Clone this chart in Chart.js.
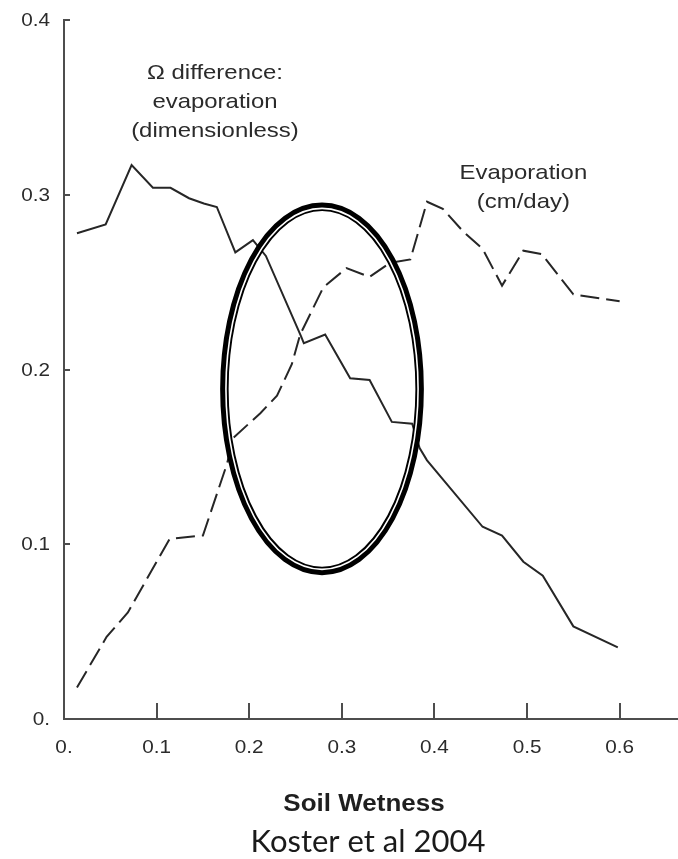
<!DOCTYPE html>
<html>
<head>
<meta charset="utf-8">
<script src="https://cdn.jsdelivr.net/npm/chart.js@4"></script>
<style>
html,body{margin:0;padding:0;background:#fff;}
canvas{display:block;}
</style>
</head>
<body>
<canvas id="c" width="678" height="859"></canvas>
<script>
// ---- data ----
const omegaX = [0.014, 0.045, 0.073, 0.096, 0.115, 0.135, 0.151, 0.165, 0.185, 0.204, 0.218, 0.256, 0.259, 0.282, 0.309, 0.330, 0.354, 0.376, 0.384, 0.392, 0.452, 0.473, 0.496, 0.517, 0.550, 0.598];
const omegaY = [0.278, 0.283, 0.317, 0.304, 0.304, 0.298, 0.295, 0.293, 0.267, 0.274, 0.265, 0.219, 0.215, 0.220, 0.195, 0.194, 0.170, 0.169, 0.155, 0.148, 0.110, 0.105, 0.090, 0.082, 0.053, 0.041];

const evapX = [0.014, 0.046, 0.069, 0.114, 0.150, 0.176, 0.183, 0.212, 0.230, 0.246, 0.255, 0.280, 0.305, 0.330, 0.352, 0.374, 0.392, 0.409, 0.431, 0.452, 0.473, 0.496, 0.516, 0.550, 0.600];
const evapY = [0.018, 0.047, 0.061, 0.103, 0.105, 0.146, 0.161, 0.175, 0.185, 0.203, 0.220, 0.247, 0.258, 0.253, 0.261, 0.263, 0.296, 0.292, 0.279, 0.269, 0.248, 0.268, 0.266, 0.243, 0.239];

const xTickValues = [0, 0.1, 0.2, 0.3, 0.4, 0.5, 0.6];
const xTickLabels = ['0.', '0.1', '0.2', '0.3', '0.4', '0.5', '0.6'];
const yTickValues = [0, 0.1, 0.2, 0.3, 0.4];
const yTickLabels = ['0.', '0.1', '0.2', '0.3', '0.4'];

const xTitle = 'Soil Wetness';
const sourceNote = 'Koster et al 2004';
const omegaLabel = ['\u03A9 difference:', 'evaporation', '(dimensionless)'];
const evapLabel = ['Evaporation', '(cm/day)'];

// highlighted region (data units): centre and radii
const highlight = { cx: 0.2786, cy: 0.1889, rx: 0.110, ry: 0.1066 };

// ---- styling ----
const INK = '#262626';
const AXIS = '#4d4d4d';
const TXT = '#2b2b2b';
const STRETCH = 1.15;

function drawText(ctx, text, x, y, font, sx, align, color) {
  ctx.save();
  ctx.translate(x, y);
  ctx.scale(sx, 1);
  ctx.font = font;
  ctx.fillStyle = color || TXT;
  ctx.textAlign = align || 'center';
  ctx.textBaseline = 'alphabetic';
  ctx.fillText(text, 0, 0);
  ctx.restore();
}

const decor = {
  id: 'decor',
  afterDatasetsDraw(chart) {
    const { ctx, scales: { x, y } } = chart;
    const cx = x.getPixelForValue(highlight.cx);
    const cy = y.getPixelForValue(highlight.cy);
    const rx = x.getPixelForValue(highlight.cx + highlight.rx) - cx;
    const ry = cy - y.getPixelForValue(highlight.cy + highlight.ry);
    ctx.save();
    ctx.strokeStyle = '#000';
    ctx.lineWidth = 8.5;
    ctx.beginPath();
    ctx.ellipse(cx, cy, rx - 4.25, ry - 4.25, 0, 0, Math.PI * 2);
    ctx.stroke();
    ctx.strokeStyle = '#fff';
    ctx.lineWidth = 1.6;
    ctx.beginPath();
    ctx.ellipse(cx, cy, rx - 5.8, ry - 5.8, 0, 0, Math.PI * 2);
    ctx.stroke();
    ctx.restore();
  },
  afterDraw(chart) {
    const { ctx, scales: { x, y }, chartArea } = chart;
    ctx.save();
    ctx.strokeStyle = AXIS;
    ctx.lineWidth = 2;
    // inward tick marks
    xTickValues.forEach(v => {
      if (v === 0) return;
      const px = Math.round(x.getPixelForValue(v));
      ctx.beginPath();
      ctx.moveTo(px, chartArea.bottom);
      ctx.lineTo(px, chartArea.bottom - 16);
      ctx.stroke();
    });
    yTickValues.forEach(v => {
      if (v === 0) return;
      const py = Math.round(y.getPixelForValue(v));
      ctx.beginPath();
      ctx.moveTo(chartArea.left, py);
      ctx.lineTo(chartArea.left + 6, py);
      ctx.stroke();
    });
    ctx.restore();

    const tickFont = '18px "Liberation Sans", Arial, sans-serif';
    xTickValues.forEach((v, i) => {
      drawText(ctx, xTickLabels[i], x.getPixelForValue(v), chartArea.bottom + 34, tickFont, STRETCH, 'center');
    });
    yTickValues.forEach((v, i) => {
      drawText(ctx, yTickLabels[i], chartArea.left - 14, y.getPixelForValue(v) + 6, tickFont, STRETCH, 'right');
    });

    const annFont = '21px "Liberation Sans", Arial, sans-serif';
    const ox = x.getPixelForValue(0.163);
    [79, 108, 137].forEach((py, i) => drawText(ctx, omegaLabel[i], ox, py, annFont, 1.14, 'center'));
    const ex = x.getPixelForValue(0.496);
    [179, 208].forEach((py, i) => drawText(ctx, evapLabel[i], ex, py, annFont, 1.14, 'center'));

    drawText(ctx, xTitle, 364, 811, 'bold 23px "Liberation Sans", Arial, sans-serif', 1.13, 'center', '#1f1f1f');
    drawText(ctx, sourceNote, 368, 852, '31px Lato, "Open Sans", sans-serif', 1.0, 'center', '#1a1a1a');
  }
};

function pts(xs, ys) { return xs.map((v, i) => ({ x: v, y: ys[i] })); }

new Chart(document.getElementById('c'), {
  type: 'line',
  data: {
    datasets: [
      {
        label: '\u03A9 difference: evaporation (dimensionless)',
        data: pts(omegaX, omegaY),
        borderColor: INK,
        borderWidth: 2,
        pointRadius: 0,
        tension: 0,
        fill: false
      },
      {
        label: 'Evaporation (cm/day)',
        data: pts(evapX, evapY),
        borderColor: INK,
        borderWidth: 2,
        borderDash: [19, 7],
        pointRadius: 0,
        tension: 0,
        fill: false
      }
    ]
  },
  options: {
    responsive: false,
    animation: false,
    devicePixelRatio: 1,
    layout: { padding: { left: 64, top: 20, right: 0, bottom: 140 } },
    plugins: { legend: { display: false }, tooltip: { enabled: false } },
    scales: {
      x: {
        type: 'linear', min: 0, max: 0.663,
        ticks: { display: false },
        grid: { display: false, drawTicks: false },
        border: { display: true, color: AXIS, width: 2 }
      },
      y: {
        type: 'linear', min: 0, max: 0.4,
        ticks: { display: false },
        grid: { display: false, drawTicks: false },
        border: { display: true, color: AXIS, width: 2 }
      }
    }
  },
  plugins: [decor]
});
</script>
</body>
</html>
